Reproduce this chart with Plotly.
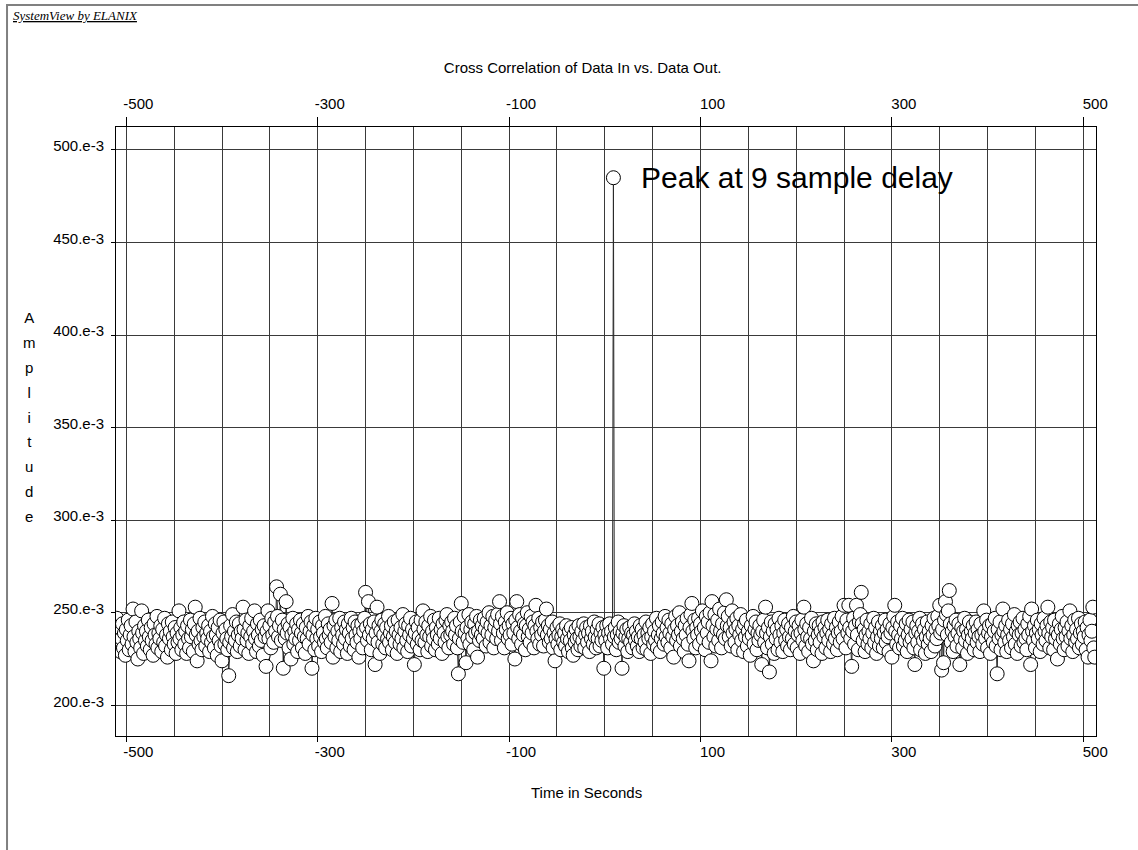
import plotly.graph_objects as go

# ---------------- data ----------------
# lag index (samples) of the cross correlation
lags = list(range(-511, 513))

# amplitude values in units of 1e-3, read/ (32 per row)
amplitude_milli = [
    231, 247, 238, 233, 242, 229, 236, 244, 231, 239, 227, 241, 235, 246, 230, 238, 243, 233, 252, 237, 229, 245, 234, 225, 240, 236, 231, 251, 239, 228, 243, 235,
    240, 232, 246, 237, 230, 242, 235, 227, 244, 238, 233, 248, 231, 239, 236, 243, 229, 241, 234, 247, 232, 238, 226, 244, 236, 240, 230, 245, 237, 233, 242, 228,
    239, 234, 251, 236, 242, 230, 238, 245, 233, 240, 228, 243, 236, 231, 246, 237, 241, 229, 244, 253, 238, 224, 240, 233, 247, 235, 230, 242, 237, 245, 232, 239,
    236, 243, 229, 240, 234, 248, 237, 231, 244, 238, 227, 242, 235, 246, 232, 224, 239, 245, 233, 241, 236, 230, 216, 234, 243, 237, 249, 231, 240, 235, 245, 229,
    238, 244, 232, 240, 236, 253, 241, 230, 246, 235, 239, 228, 243, 237, 247, 233, 240, 251, 236, 229, 244, 238, 232, 246, 235, 241, 227, 243, 237, 221, 240, 251,
    236, 243, 231, 247, 238, 234, 245, 240, 264, 248, 237, 243, 260, 235, 246, 220, 241, 236, 256, 239, 244, 231, 242, 225, 238, 247, 233, 240, 236, 244, 229, 241,
    235, 246, 239, 231, 244, 237, 228, 242, 236, 248, 233, 240, 245, 220, 238, 243, 230, 247, 236, 241, 232, 245, 237, 229, 243, 239, 234, 248, 236, 231, 244, 238,
    241, 234, 255, 226, 243, 237, 246, 231, 240, 235, 247, 229, 242, 238, 233, 245, 236, 241, 228, 244, 239, 232, 247, 236, 242, 230, 245, 238, 234, 243, 226, 240,
    236, 244, 231, 240, 247, 261, 242, 235, 256, 238, 244, 230, 241, 236, 245, 222, 239, 253, 234, 243, 228, 240, 246, 233, 238, 244, 231, 242, 236, 248, 234, 239,
    243, 230, 237, 245, 234, 240, 228, 246, 238, 233, 242, 236, 249, 231, 240, 244, 235, 229, 243, 238, 247, 232, 241, 236, 222, 239, 245, 233, 242, 237, 230, 246,
    235, 251, 241, 234, 245, 238, 229, 243, 237, 248, 232, 240, 236, 246, 230, 242, 238, 233, 247, 236, 241, 228, 244, 239, 234, 246, 249, 237, 231, 243, 238, 245,
    240, 233, 247, 238, 243, 231, 217, 236, 245, 255, 240, 234, 248, 239, 223, 242, 236, 249, 233, 241, 245, 237, 230, 244, 239, 248, 226, 240, 235, 246, 238, 243,
    236, 247, 241, 232, 245, 239, 250, 234, 243, 238, 248, 231, 242, 246, 236, 249, 240, 256, 244, 235, 248, 239, 231, 245, 241, 250, 236, 243, 238, 247, 233, 244,
    239, 225, 246, 256, 242, 236, 249, 240, 233, 247, 238, 244, 230, 243, 250, 237, 241, 234, 248, 239, 245, 231, 243, 254, 240, 236, 247, 233, 242, 238, 245, 232,
    240, 246, 252, 238, 243, 234, 241, 236, 245, 231, 239, 224, 236, 242, 233, 238, 244, 230, 237, 241, 234, 239, 232, 243, 236, 229, 240, 235, 242, 231, 227, 238,
    234, 241, 236, 230, 243, 237, 232, 240, 235, 244, 231, 238, 242, 234, 239, 229, 243, 236, 240, 233, 245, 237, 231, 241, 236, 244, 232, 239, 235, 242, 220, 238,
    235, 243, 231, 239, 244, 236, 240, 233, 485, 237, 242, 230, 238, 245, 234, 240, 236, 220, 239, 243, 232, 237, 241, 229, 236, 242, 234, 239, 231, 238, 244, 235,
    240, 232, 237, 229, 243, 236, 241, 231, 238, 234, 245, 230, 239, 236, 242, 228, 237, 244, 233, 240, 235, 247, 231, 238, 243, 229, 236, 245, 239, 233, 248, 237,
    242, 234, 246, 239, 231, 244, 237, 226, 241, 248, 235, 243, 238, 250, 232, 240, 245, 236, 229, 243, 238, 247, 233, 224, 242, 249, 255, 240, 236, 246, 231, 242,
    238, 247, 233, 244, 240, 251, 236, 242, 230, 248, 239, 245, 234, 250, 224, 256, 243, 237, 249, 232, 241, 246, 235, 252, 240, 231, 244, 238, 250, 236, 257, 243,
    248, 237, 242, 232, 251, 239, 245, 234, 241, 247, 230, 243, 238, 249, 235, 241, 229, 244, 237, 246, 232, 240, 236, 227, 243, 238, 248, 233, 241, 245, 230, 239,
    235, 243, 238, 222, 240, 246, 234, 253, 239, 231, 242, 218, 237, 245, 233, 240, 228, 244, 236, 241, 230, 247, 238, 234, 243, 229, 239, 246, 235, 241, 232, 244,
    237, 230, 242, 236, 248, 233, 240, 245, 231, 238, 243, 228, 239, 246, 235, 253, 241, 232, 244, 237, 229, 242, 236, 247, 233, 224, 240, 235, 244, 230, 238, 243,
    234, 240, 228, 245, 237, 242, 231, 239, 246, 235, 241, 229, 244, 238, 233, 247, 236, 242, 230, 239, 245, 234, 240, 248, 236, 254, 243, 231, 246, 239, 254, 242,
    236, 221, 240, 247, 233, 243, 254, 238, 230, 245, 249, 261, 244, 235, 241, 229, 238, 246, 233, 240, 236, 244, 231, 239, 247, 234, 242, 228, 237, 245, 232, 240,
    236, 243, 231, 239, 246, 234, 241, 237, 229, 244, 239, 226, 242, 248, 254, 240, 233, 245, 238, 231, 243, 236, 247, 232, 240, 235, 244, 229, 238, 246, 234, 241,
    236, 245, 231, 222, 239, 243, 234, 240, 247, 230, 238, 244, 235, 241, 228, 237, 245, 233, 240, 236, 229, 243, 238, 247, 232, 241, 236, 248, 243, 254, 239, 219,
    241, 223, 246, 256, 249, 238, 251, 262, 244, 234, 240, 229, 243, 237, 246, 232, 239, 244, 222, 236, 242, 231, 240, 247, 235, 241, 228, 238, 245, 233, 240, 236,
    243, 230, 239, 245, 234, 241, 237, 229, 244, 238, 233, 251, 240, 236, 246, 231, 239, 243, 228, 237, 244, 234, 240, 247, 232, 217, 241, 236, 245, 230, 238, 252,
    240, 234, 243, 229, 238, 246, 235, 241, 231, 244, 237, 249, 233, 240, 228, 243, 238, 245, 232, 239, 247, 234, 241, 236, 230, 244, 238, 248, 222, 252, 240, 235,
    243, 231, 239, 246, 236, 241, 229, 244, 238, 233, 247, 240, 235, 243, 253, 239, 231, 245, 237, 242, 230, 246, 236, 240, 225, 238, 244, 233, 241, 248, 236, 230,
    242, 237, 245, 232, 240, 251, 236, 243, 229, 238, 246, 234, 241, 236, 247, 231, 239, 244, 233, 240, 237, 245, 230, 242, 226, 238, 246, 235, 240, 253, 231, 226,
]

x_tick_vals = [-500, -300, -100, 100, 300, 500]
x_tick_text = ["-500", "-300", "-100", "100", "300", "500"]
y_tick_vals = [0.200, 0.250, 0.300, 0.350, 0.400, 0.450, 0.500]
y_tick_text = ["200.e-3", "250.e-3", "300.e-3", "350.e-3", "400.e-3", "450.e-3", "500.e-3"]

peak_lag = 9
peak_label = "Peak at 9 sample delay"
title_text = "Cross Correlation of Data In vs. Data Out."
x_title = "Time in Seconds"
y_title = "Amplitude"
brand = "SystemView by ELANIX"

# ---------------- figure ----------------
amplitude = [v / 1000.0 for v in amplitude_milli]
peak_value = amplitude[lags.index(peak_lag)]

FONT = "Arial, 'Liberation Sans', sans-serif"
GRID = "#3a3a3a"
X_RANGE = [-510.8, 513.3]
Y_RANGE = [0.1834, 0.5124]

fig = go.Figure()
fig.add_trace(go.Scatter(
    x=lags, y=amplitude, mode="lines+markers",
    line=dict(color="#2a2a2a", width=1),
    marker=dict(symbol="circle", size=14, color="white",
                line=dict(color="black", width=1)),
    showlegend=False,
    hovertemplate="%{x}: %{y:.4f}<extra></extra>",
))

fig.update_layout(
    width=1138, height=850,
    margin=dict(l=116, r=42, t=127, b=114),
    paper_bgcolor="white", plot_bgcolor="white",
    font=dict(family=FONT, size=15, color="black"),
    showlegend=False,
    title=dict(text=title_text, font=dict(family=FONT, size=15, color="black"),
               xref="paper", x=0.4762, xanchor="center",
               yref="container", y=0.9204, yanchor="middle"),
    xaxis=dict(
        range=X_RANGE, tickmode="array", tickvals=x_tick_vals, ticktext=x_tick_text,
        ticks="outside", ticklen=5, tickwidth=1, tickcolor="black",
        showgrid=True, gridcolor=GRID, gridwidth=1,
        minor=dict(tickmode="linear", tick0=-500, dtick=50, showgrid=True,
                   gridcolor=GRID, gridwidth=1, ticks=""),
        showline=True, linecolor="black", linewidth=1, mirror=True,
        zeroline=False, tickfont=dict(family=FONT, size=15, color="black"),
        ticklabelshift=12, ticklabelstandoff=-3,
    ),
    xaxis2=dict(
        overlaying="x", side="top", range=X_RANGE,
        tickmode="array", tickvals=x_tick_vals, ticktext=x_tick_text,
        ticks="outside", ticklen=9, tickwidth=1, tickcolor="black",
        showgrid=False, showline=False, zeroline=False,
        tickfont=dict(family=FONT, size=15, color="black"),
        ticklabelshift=12, ticklabelstandoff=2,
    ),
    yaxis=dict(
        range=Y_RANGE, tickmode="array", tickvals=y_tick_vals, ticktext=y_tick_text,
        ticks="outside", ticklen=4, tickwidth=1, tickcolor="black",
        showgrid=True, gridcolor=GRID, gridwidth=1,
        showline=True, linecolor="black", linewidth=1, mirror=True,
        zeroline=False, tickfont=dict(family=FONT, size=15, color="black"),
        ticklabelshift=-4, ticklabelstandoff=4,
    ),
)

# empty trace so the top axis is attached to a subplot
fig.add_trace(go.Scatter(x=[], y=[], xaxis="x2", showlegend=False, hoverinfo="skip"))

stacked = "<br>".join('<span style="font-size:15px">%s</span>' % ch for ch in y_title)

fig.update_layout(annotations=[
    dict(text="<i><u>%s</u></i>" % brand, xref="paper", yref="paper",
         x=-0.1072, y=1.1832, xanchor="left", yanchor="middle", showarrow=False,
         font=dict(family="'Times New Roman', 'Liberation Serif', serif", size=13, color="black")),
    dict(text=x_title, xref="paper", yref="paper", x=0.4797, y=-0.0925,
         xanchor="center", yanchor="middle", showarrow=False,
         font=dict(family=FONT, size=15, color="black")),
    dict(text=stacked, xref="paper", yref="paper", x=-0.0885, y=0.5244,
         xanchor="center", yanchor="middle", showarrow=False, align="center",
         font=dict(family=FONT, size=19.15, color="black")),
    dict(text=peak_label, xref="x", yref="y", x=peak_lag + 27, y=peak_value,
         xanchor="left", yanchor="middle", showarrow=False,
         font=dict(family=FONT, size=30, color="black")),
])

fig.add_shape(type="rect", xref="paper", yref="paper",
              x0=-0.1112, x1=1.2, y0=-0.5, y1=1.2004,
              line=dict(color="#808080", width=2), fillcolor="rgba(0,0,0,0)",
              layer="below")

# remove the default page margin so the figure sits at the window origin
fig.write_html("out.html", config={"displayModeBar": False},
               post_script="document.body.style.margin='0px';")
